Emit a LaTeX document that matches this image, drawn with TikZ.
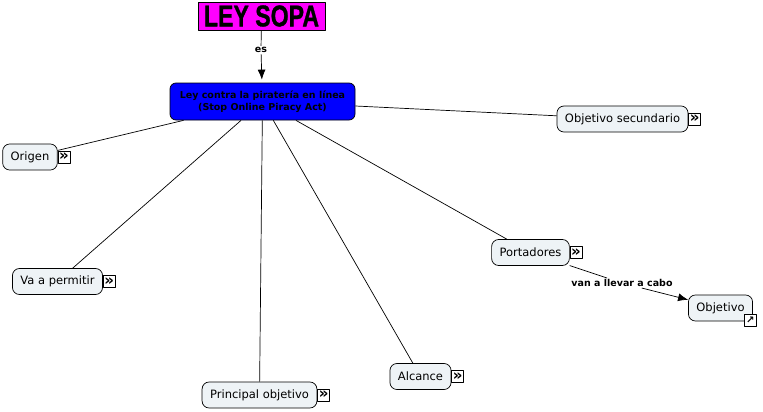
\documentclass[tikz,border=0pt]{standalone}
\usepackage{fontspec}
\setmainfont{DejaVu Sans}
\newfontfamily\leyfont{Liberation Sans}[BoldFeatures={FakeBold=1.2}]
\usetikzlibrary{arrows.meta,positioning,shapes}
\definecolor{conc}{RGB}{238,243,246}
\definecolor{mag}{RGB}{255,0,255}
\begin{document}
\begin{tikzpicture}[x=1pt,y=-1pt,>={Latex[length=10pt,width=8pt]},line join=bevel,line width=0.7pt,
  concept/.style={draw,rounded corners=7pt,fill=conc,minimum height=26pt,inner xsep=8pt,font=\fontsize{11.5}{13}\selectfont},
  icon/.style={draw,fill=white,minimum size=12pt,inner sep=0pt,anchor=west,font=\bfseries\fontsize{15}{12}\selectfont},
  lbl/.style={fill=white,inner sep=1pt,font=\bfseries\fontsize{9.5}{11}\selectfont}]
\useasboundingbox (0,0) rectangle (763,412);
\node [draw,fill=mag,minimum width=127pt,minimum height=28pt,inner sep=0pt] at (261.5,16) (s0) {\leyfont\bfseries\fontsize{30}{30}\selectfont\scalebox{0.77}[1]{LEY SOPA}};
\node [lbl] at (261,50) (es) {es};
\node [draw,fill=blue,rounded corners=6pt,minimum width=185pt,minimum height=37pt,align=center,inner sep=2pt,font=\bfseries\fontsize{9.5}{12}\selectfont] at (262.5,101.5) (s1) {Ley contra la piratería en línea\\(Stop Online Piracy Act)};
\node [concept] at (622.5,119) (s2) {Objetivo secundario};
\node [concept] at (30,157) (s3) {Origen};
\node [concept] at (57.5,281.5) (s4) {Va a permitir};
\node [concept] at (530.5,252.5) (s5) {Portadores};
\node [concept] at (720.5,308) (s6) {Objetivo};
\node [concept] at (259.5,395) (s7) {Principal objetivo};
\node [concept] at (420.5,376.5) (s8) {Alcance};
\node [lbl] at (622,283) (van) {van a llevar a cabo};

% iconos
\node [icon] at (s2.east) (i2) {»};
\node [icon] at (s3.east) (i3) {»};
\node [icon] at (s4.east) (i4) {»};
\node [icon] at (s5.east) (i5) {»};
\node [icon] at (s7.east) (i7) {»};
\node [icon] at (s8.east) (i8) {»};
\node [icon,anchor=north west,font=\bfseries\fontsize{10}{10}\selectfont] at ([xshift=-9pt,yshift=7pt]s6.south east) (i6) {↗};

\draw (s0) -- (es);
\draw [->,shorten >=3pt] (es) -- (s1);
\draw (s1) -- (s2);
\draw (s1) -- (s3);
\draw (s1) -- (s4);
\draw (s1) -- (s5);
\draw (s1) -- (s7);
\draw (s1) -- (s8);
\draw (s5) -- (van);
\draw [->] (van) -- (s6);
\end{tikzpicture}
\end{document}
